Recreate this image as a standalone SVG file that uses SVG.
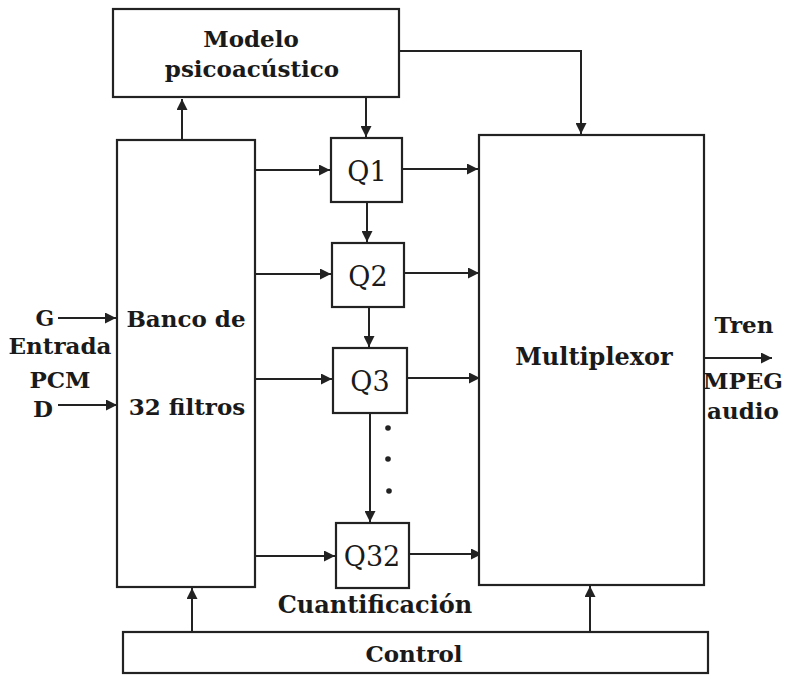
<svg xmlns="http://www.w3.org/2000/svg" width="795" height="680" viewBox="0 0 795 680">
<defs>
<marker id="ah" viewBox="0 0 10 10" refX="10" refY="5" markerWidth="11" markerHeight="11" markerUnits="userSpaceOnUse" orient="auto">
<path d="M0,0 L10,5 L0,10 z" fill="#222"/>
</marker>
</defs>
<style>
.box{fill:#fff;stroke:#222;stroke-width:2.2}
.ln{fill:none;stroke:#222;stroke-width:2}
.t{font-family:"DejaVu Serif","Liberation Serif",serif;font-weight:bold;fill:#1a1a1a;text-anchor:middle;font-size:23px}
.q{font-family:"DejaVu Serif","Liberation Serif",serif;font-weight:normal;fill:#1a1a1a;text-anchor:middle;font-size:27px}
</style>
<rect width="795" height="680" fill="#fff"/>
<g id="connectors">
<path class="ln" d="M399,51 H581 V134" marker-end="url(#ah)"/>
<path class="ln" d="M182,140 V99" marker-end="url(#ah)"/>
<path class="ln" d="M366,97 V137" marker-end="url(#ah)"/>
<path class="ln" d="M255,170 H330" marker-end="url(#ah)"/>
<path class="ln" d="M255,274 H331" marker-end="url(#ah)"/>
<path class="ln" d="M255,379 H332" marker-end="url(#ah)"/>
<path class="ln" d="M255,556 H335" marker-end="url(#ah)"/>
<path class="ln" d="M402,169 H478" marker-end="url(#ah)"/>
<path class="ln" d="M404,273 H479" marker-end="url(#ah)"/>
<path class="ln" d="M407,378 H480" marker-end="url(#ah)"/>
<path class="ln" d="M409,554 H482" marker-end="url(#ah)"/>
<path class="ln" d="M367,202 V242" marker-end="url(#ah)"/>
<path class="ln" d="M369,307 V347" marker-end="url(#ah)"/>
<path class="ln" d="M370,413 V522" marker-end="url(#ah)"/>
<path class="ln" d="M58,318 H116" marker-end="url(#ah)"/>
<path class="ln" d="M58,405 H117" marker-end="url(#ah)"/>
<path class="ln" d="M192,632 V588" marker-end="url(#ah)"/>
<path class="ln" d="M590,632 V586" marker-end="url(#ah)"/>
<path class="ln" d="M704,358 H772" marker-end="url(#ah)"/>
<circle cx="388" cy="428" r="2.8" fill="#222"/>
<circle cx="388" cy="459" r="2.8" fill="#222"/>
<circle cx="389" cy="491" r="2.8" fill="#222"/>
</g>
<g id="modelo">
<rect class="box" x="113" y="9" width="286" height="88"/>
<text class="t" x="251" y="47">Modelo</text>
<text class="t" x="252" y="77">psicoacústico</text>
</g>
<g id="banco">
<rect class="box" x="117" y="140" width="138" height="447"/>
<text class="t" x="186" y="327">Banco de</text>
<text class="t" x="187" y="415">32 filtros</text>
</g>
<g id="q1">
<rect class="box" x="331" y="138" width="71" height="64"/>
<text class="q" x="367" y="181">Q1</text>
</g>
<g id="q2">
<rect class="box" x="332" y="243" width="72" height="64"/>
<text class="q" x="368" y="286">Q2</text>
</g>
<g id="q3">
<rect class="box" x="333" y="348" width="74" height="65"/>
<text class="q" x="370" y="391">Q3</text>
</g>
<g id="q32">
<rect class="box" x="336" y="523" width="73" height="65"/>
<text class="q" x="372" y="566">Q32</text>
</g>
<g id="multiplexor">
<rect class="box" x="479" y="135" width="225" height="450"/>
<text class="t" x="594" y="365" style="font-size:24px">Multiplexor</text>
</g>
<g id="control">
<rect class="box" x="123" y="632" width="585" height="41"/>
<text class="t" x="414" y="662">Control</text>
</g>
<g id="labels">
<text class="t" x="45" y="326" style="font-size:22px">G</text>
<text class="t" x="60" y="354" style="font-size:23px">Entrada</text>
<text class="t" x="60" y="388">PCM</text>
<text class="t" x="43" y="417">D</text>
<text class="t" x="744" y="333">Tren</text>
<text class="t" x="743" y="389">MPEG</text>
<text class="t" x="743" y="419">audio</text>
<text class="t" x="375" y="613" style="font-size:24px">Cuantificación</text>
</g>
</svg>
